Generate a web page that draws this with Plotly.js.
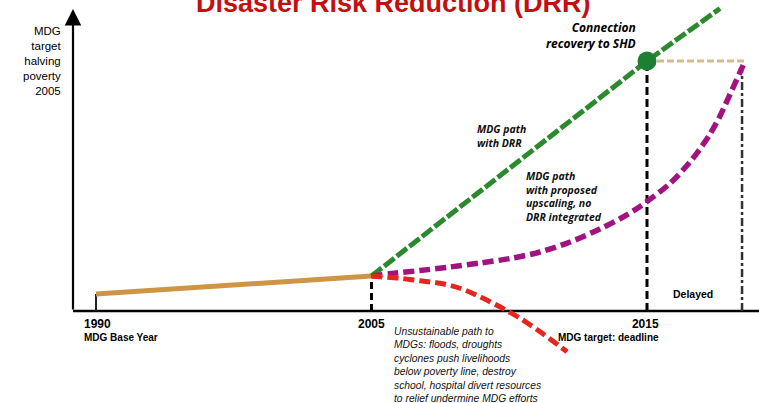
<!DOCTYPE html>
<html>
<head>
<meta charset="utf-8">
<script src="https://cdn.plot.ly/plotly-3.0.1.min.js"></script>
<style>html,body{margin:0;padding:0;background:#fff;}#chart{width:759px;height:403px;}</style>
</head>
<body>
<div id="chart"></div>
<script>
// Stage positions on the x axis: 0 = 1990, 1 = 2005, 2 = 2015 (diagram units)
const stageLabels = ['1990', '2005', '2015'];
const stageX = [0, 1, 2];
const delayedX = 2.345;          // end of the "Delayed" period
const targetLevel = 100;         // MDG target: halving poverty

// Path 1990 -> 2005 (orange)
const baseX = [0, 1];
const baseY = [6.8, 14];

// MDG path with DRR (green)
const drrX = [1, 2, 2.265];
const drrY = [14, 100, 121];

// MDG path with proposed upscaling, no DRR integrated (purple)
const upX = [1.0, 1.067, 1.176, 1.285, 1.394, 1.503, 1.612, 1.721, 1.829, 1.902, 1.975, 2.083, 2.156, 2.192, 2.229, 2.265, 2.301, 2.338, 2.356];
const upY = [14, 14.9, 16.2, 17.6, 19.2, 21.0, 23.6, 27.6, 32.8, 36.9, 41.8, 51.0, 59.6, 64.8, 70.8, 78.0, 86.6, 95.6, 100];

// Unsustainable path (red)
const unsX = [1.0, 1.031, 1.103, 1.176, 1.249, 1.321, 1.394, 1.466, 1.539, 1.612, 1.71];
const unsY = [14, 13.7, 13.1, 12.1, 11.1, 9.1, 5.7, 1.7, -2.9, -8.3, -16.3];

// Connection recovery to SHD point
const connX = [2];
const connY = [100];

// helpers for placing text (pixel layout -> axis units)
const PX = p => (p - 96) / 275.5;
const PY = p => (311 - p) / 2.5;

const narrow = 'Liberation Sans, Arial, sans-serif';
const sans = 'Open Sans, Liberation Sans, sans-serif';

const traces = [
  {x: baseX, y: baseY, mode: 'lines', line: {color: '#cf9547', width: 5}, hoverinfo: 'skip'},
  {x: drrX, y: drrY, mode: 'lines', line: {color: '#2b8a2e', width: 5, dash: '13px,3px'}, hoverinfo: 'skip'},
  {x: upX, y: upY, mode: 'lines', line: {color: '#a3137f', width: 5.5, dash: '11px,5px', shape: 'spline', smoothing: 0.8}, hoverinfo: 'skip'},
  {x: unsX, y: unsY, mode: 'lines', line: {color: '#e4271e', width: 5, dash: '11px,5px', shape: 'spline', smoothing: 0.8}, hoverinfo: 'skip'},
  {x: connX, y: connY, mode: 'markers', marker: {color: '#1c7f34', size: 19}, hoverinfo: 'skip'}
];

const xAxisStart = PX(73);

const shapes = [
  // x axis line
  {type: 'line', xref: 'x', yref: 'y', x0: xAxisStart, x1: PX(760), y0: 0, y1: 0, line: {color: '#000', width: 2.5}, layer: 'below'},
  // 1990 tick
  {type: 'line', xref: 'x', yref: 'y', x0: stageX[0], x1: stageX[0], y0: 0, y1: baseY[0], line: {color: '#222', width: 2}, layer: 'below'},
  // 2005 dashed
  {type: 'line', xref: 'x', yref: 'y', x0: stageX[1], x1: stageX[1], y0: 0, y1: baseY[1], line: {color: '#000', width: 3, dash: '7px,4px'}, layer: 'below'},
  // 2015 dashed
  {type: 'line', xref: 'x', yref: 'y', x0: stageX[2], x1: stageX[2], y0: 0, y1: targetLevel, line: {color: '#000', width: 3, dash: '8px,4px'}, layer: 'below'},
  // delayed end dashed
  {type: 'line', xref: 'x', yref: 'y', x0: delayedX, x1: delayedX, y0: 0, y1: targetLevel - 4, line: {color: '#333', width: 2.5, dash: '8px,3px,3px,3px'}, layer: 'below'},
  // target level (tan)
  {type: 'line', xref: 'x', yref: 'y', x0: connX[0], x1: upX[upX.length - 1], y0: targetLevel, y1: targetLevel, line: {color: '#d8b98c', width: 3, dash: '7px,3px'}, layer: 'below'}
];

const ann = (x, y, text, opts) => Object.assign({xref: 'x', yref: 'y', x: x, y: y, text: text, showarrow: false}, opts);

const annotations = [
  // title (partly cut at the top edge, as in the reference)
  {xref: 'paper', yref: 'paper', x: 393 / 759, y: 1 - 3 / 403, xanchor: 'center', yanchor: 'middle', showarrow: false,
   text: '<b>Disaster Risk Reduction (DRR)</b>', font: {family: 'Liberation Sans, Arial, sans-serif', size: 27, color: '#c40f0f'}},
  // y axis with arrow
  {xref: 'x', yref: 'y', axref: 'x', ayref: 'y', x: xAxisStart, y: PY(9), ax: xAxisStart, ay: 0, text: '', showarrow: true,
   arrowhead: 2, arrowsize: 1.5, arrowwidth: 2.2, arrowcolor: '#000', standoff: 0, startstandoff: 0},
  // y label
  ann(PX(64), PY(61), 'MDG<br>target<br>halving<br>poverty<br>2005', {xanchor: 'right', yanchor: 'middle', align: 'right',
   font: {family: narrow, size: 11.5, color: '#000'}}),
  // 1990
  ann(PX(82), PY(315), '<b><span style="font-size:12px">1990</span></b><br><b>MDG Base Year</b>', {xanchor: 'left', yanchor: 'top', align: 'left',
   font: {family: narrow, size: 10, color: '#000'}}),
  // 2005
  ann(stageX[1], PY(315), '<b>2005</b>', {xanchor: 'center', yanchor: 'top', font: {family: narrow, size: 12, color: '#000'}}),
  // 2015
  ann(PX(661), PY(315), '<b><span style="font-size:12px">2015</span></b><br><b>MDG target: deadline</b>', {xanchor: 'right', yanchor: 'top', align: 'right',
   font: {family: narrow, size: 10, color: '#000'}}),
  // Delayed
  ann(PX(693), PY(294), '<b>Delayed</b>', {xanchor: 'center', yanchor: 'middle', font: {family: narrow, size: 10.5, color: '#000'}}),
  // Unsustainable
  ann(PX(392), PY(324), '<i>Unsustainable path to<br>MDGs: floods, droughts<br>cyclones push livelihoods<br>below poverty line, destroy<br>school, hospital divert resources<br>to relief undermine MDG efforts</i>',
   {xanchor: 'left', yanchor: 'top', align: 'left', font: {family: narrow, size: 10.3, color: '#111'}}),
  // Connection recovery
  ann(PX(638), PY(35), '<b><i>Connection<br>recovery to SHD</i></b>', {xanchor: 'right', yanchor: 'middle', align: 'right',
   font: {family: sans, size: 12, color: '#000'}}),
  // MDG path with DRR
  ann(PX(475), PY(136), '<b><i>MDG path<br>with DRR</i></b>', {xanchor: 'left', yanchor: 'middle', align: 'left',
   font: {family: sans, size: 10.5, color: '#111'}}),
  // MDG path with proposed upscaling
  ann(PX(524), PY(196), '<b><i>MDG path<br>with proposed<br>upscaling, no<br>DRR integrated</i></b>', {xanchor: 'left', yanchor: 'middle', align: 'left',
   font: {family: sans, size: 10.5, color: '#111'}})
];

const layout = {
  width: 759, height: 403,
  margin: {l: 0, r: 0, t: 0, b: 0, pad: 0},
  paper_bgcolor: '#fff', plot_bgcolor: '#fff',
  showlegend: false,
  xaxis: {range: [PX(0), PX(759)], visible: false, fixedrange: true},
  yaxis: {range: [PY(403), PY(0)], visible: false, fixedrange: true},
  shapes: shapes,
  annotations: annotations
};

Plotly.newPlot('chart', traces, layout, {displayModeBar: false, staticPlot: true});
</script>
</body>
</html>
